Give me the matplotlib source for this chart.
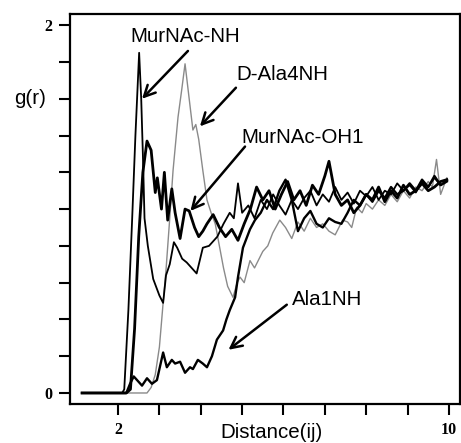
import numpy as np
import matplotlib
matplotlib.use("Agg")
import matplotlib.pyplot as plt

# g(r) curves
murnac_nh_x = [1.13, 2.0, 2.1, 2.15, 2.25, 2.34, 2.42, 2.51, 2.56, 2.6,
               2.64, 2.72, 2.85, 3.0, 3.09, 3.16, 3.25, 3.35, 3.43, 3.55,
               3.66, 3.78, 3.9, 4.05, 4.2, 4.4, 4.55, 4.7, 4.8, 4.9,
               5.0, 5.15, 5.3, 5.45, 5.6, 5.75, 5.9, 6.05, 6.2, 6.35,
               6.5, 6.65, 6.8, 6.95, 7.1, 7.25, 7.4, 7.55, 7.7, 7.85,
               8.0, 8.15, 8.3, 8.45, 8.6, 8.75, 8.9, 9.05, 9.2, 9.35,
               9.5, 9.65, 9.8, 9.95]
murnac_nh_y = [0, 0, 0, 0.02, 0.45, 0.94, 1.4, 1.85, 1.6, 1.3,
               0.95, 0.8, 0.62, 0.53, 0.49, 0.64, 0.7, 0.82, 0.79, 0.73,
               0.71, 0.68, 0.65, 0.79, 0.8, 0.85, 0.92, 0.98, 0.95, 1.14,
               0.98, 1.02, 0.95, 1.05, 1.0, 1.08, 1.02, 0.97, 1.05, 1.0,
               1.06, 1.1, 1.02, 1.08, 1.04, 1.12, 1.05, 1.09, 1.03, 1.1,
               1.07, 1.12, 1.05, 1.1, 1.08, 1.14, 1.1, 1.13, 1.09, 1.15,
               1.12, 1.17, 1.13, 1.16]

murnac_oh1_x = [1.13, 2.1, 2.2, 2.3, 2.4, 2.5, 2.6, 2.7, 2.8, 2.9,
                2.95, 3.05, 3.12, 3.2, 3.3, 3.38, 3.5, 3.62, 3.72, 3.85,
                3.95, 4.05, 4.15, 4.3, 4.45, 4.6, 4.75, 4.9, 5.05, 5.2,
                5.35, 5.5, 5.65, 5.8, 5.95, 6.1, 6.25, 6.4, 6.55, 6.7,
                6.85, 7.0, 7.1, 7.25, 7.4, 7.55, 7.7, 7.85, 8.0, 8.15,
                8.3, 8.45, 8.6, 8.75, 8.9, 9.05, 9.2, 9.35, 9.5, 9.65,
                9.8, 9.95]
murnac_oh1_y = [0, 0, 0, 0.02, 0.35, 0.85, 1.2, 1.37, 1.32, 1.09,
                1.17, 1.0, 1.2, 0.94, 1.11, 0.98, 0.84, 1.0, 0.99, 0.9,
                0.85, 0.88, 0.92, 0.97, 0.9, 0.85, 0.89, 0.83, 0.92, 1.0,
                1.12, 1.05, 1.1, 1.0, 1.08, 1.15, 1.05, 1.1, 1.02, 1.13,
                1.08, 1.18, 1.26, 1.08, 1.02, 1.05, 0.98, 1.02, 1.08, 1.05,
                1.12, 1.04, 1.1, 1.06, 1.13, 1.08, 1.1, 1.14, 1.1, 1.12,
                1.15, 1.16]

dala4nh_x = [1.13, 2.7, 2.8, 2.9, 3.0, 3.09, 3.16, 3.25, 3.33, 3.45,
             3.54, 3.62, 3.72, 3.81, 3.88, 3.95, 4.05, 4.15, 4.25, 4.35,
             4.45, 4.55, 4.65, 4.78, 4.88, 4.95, 5.05, 5.19, 5.3, 5.5,
             5.62, 5.74, 5.91, 6.05, 6.2, 6.35, 6.5, 6.65, 6.8, 6.95,
             7.1, 7.25, 7.43, 7.55, 7.65, 7.77, 7.9, 8.0, 8.15, 8.3,
             8.45, 8.6, 8.75, 8.9, 9.05, 9.2, 9.35, 9.5, 9.6, 9.7,
             9.8, 9.95]
dala4nh_y = [0, 0, 0.03, 0.1, 0.25, 0.49, 0.67, 0.95, 1.21, 1.5,
             1.65, 1.79, 1.6, 1.43, 1.46, 1.38, 1.21, 1.05, 0.98, 0.92,
             0.8, 0.68, 0.58, 0.52, 0.6, 0.63, 0.6, 0.72, 0.68, 0.77,
             0.8, 0.87, 0.94, 0.9, 0.84, 0.93, 0.88, 0.95, 0.9, 0.92,
             0.88, 0.86, 0.94, 0.93, 0.9, 1.01, 0.98, 1.03, 1.0, 1.05,
             1.02, 1.08, 1.04, 1.1, 1.06, 1.12, 1.1, 1.15, 1.12, 1.27,
             1.08, 1.17]

ala1nh_x = [1.13, 2.2, 2.29, 2.38, 2.46, 2.58, 2.7, 2.82, 2.94, 3.09,
            3.18, 3.3, 3.38, 3.5, 3.62, 3.74, 3.81, 3.93, 4.05, 4.15,
            4.27, 4.39, 4.54, 4.62, 4.7, 4.83, 4.9, 5.02, 5.19, 5.31,
            5.45, 5.6, 5.75, 5.9, 6.05, 6.2, 6.35, 6.5, 6.65, 6.8,
            6.95, 7.1, 7.25, 7.4, 7.55, 7.7, 7.85, 8.0, 8.15, 8.3,
            8.45, 8.6, 8.75, 8.9, 9.05, 9.2, 9.35, 9.5, 9.65, 9.8,
            9.95]
ala1nh_y = [0, 0, 0.05, 0.09, 0.07, 0.04, 0.08, 0.05, 0.07, 0.22,
            0.14, 0.18, 0.16, 0.17, 0.11, 0.14, 0.13, 0.18, 0.16, 0.14,
            0.2, 0.29, 0.34, 0.4, 0.45, 0.52, 0.63, 0.79, 0.89, 0.94,
            0.98, 1.05, 1.0, 1.1, 1.16, 1.05, 0.88, 0.95, 0.99, 0.92,
            0.9, 0.95, 0.93, 0.92, 0.98, 1.05, 1.02, 1.08, 1.04, 1.1,
            1.06, 1.12, 1.08, 1.1, 1.14, 1.1, 1.16, 1.12, 1.18, 1.13,
            1.15]

x_ticks = [2, 3, 4, 5, 6, 7, 8, 9, 10]
x_tick_labels = ["2", "", "", "", "", "", "", "", "10"]
y_ticks = [0, 0.2, 0.4, 0.6, 0.8, 1.0, 1.2, 1.4, 1.6, 1.8, 2.0]
y_tick_labels = ["0", "", "", "", "", "", "", "", "", "", "2"]

sans = "Liberation Sans"
serif = "Liberation Serif"

fig = plt.figure(figsize=(4.61, 4.43), dpi=100)
ax = fig.add_axes([0.152, 0.088, 0.846, 0.880])

ax.plot(dala4nh_x, dala4nh_y, color="#8a8a8a", lw=1.0)
ax.plot(murnac_nh_x, murnac_nh_y, color="black", lw=1.3)
ax.plot(murnac_oh1_x, murnac_oh1_y, color="black", lw=2.0)
ax.plot(ala1nh_x, ala1nh_y, color="black", lw=1.7)

ax.set_xlim(0.84, 10.27)
ax.set_ylim(-0.06, 2.06)

ax.set_xticks(x_ticks)
ax.set_xticklabels(x_tick_labels, fontfamily=serif, fontsize=11.5,
                   fontweight="bold")
ax.set_yticks(y_ticks)
ax.set_yticklabels(y_tick_labels, fontfamily=serif, fontsize=11.5,
                   fontweight="bold")
ax.tick_params(direction="out", length=8, width=1.5, pad=5)
for s in ax.spines.values():
    s.set_linewidth(1.6)

# labels with arrows pointing at each curve
arrow = dict(arrowstyle="->", lw=1.8, color="black", mutation_scale=20,
             shrinkA=0, shrinkB=0)
ax.annotate("", xy=(2.58, 1.60), xytext=(3.69, 1.86), arrowprops=arrow)
ax.annotate("", xy=(3.98, 1.45), xytext=(4.85, 1.66), arrowprops=arrow)
ax.annotate("", xy=(3.75, 0.99), xytext=(5.07, 1.34), arrowprops=arrow)
ax.annotate("", xy=(4.67, 0.235), xytext=(6.08, 0.48), arrowprops=arrow)

ax.text(3.62, 1.908, "MurNAc-NH", fontfamily=sans, fontsize=14.8,
        ha="center", va="baseline")
ax.text(4.85, 1.701, "D-Ala4NH", fontfamily=sans, fontsize=14.8,
        ha="left", va="baseline")
ax.text(4.97, 1.359, "MurNAc-OH1", fontfamily=sans, fontsize=14.8,
        ha="left", va="baseline")
ax.text(6.2, 0.478, "Ala1NH", fontfamily=sans, fontsize=14.8,
        ha="left", va="baseline")

fig.text(30 / 461, 1 - 98 / 443, "g(r)", fontfamily=sans, fontsize=14.8,
         ha="center", va="center")
fig.text(272 / 461, 1 - 432 / 443, "Distance(ij)", fontfamily=sans,
         fontsize=14.8, ha="center", va="center")

fig.savefig("out.png", dpi=100)
